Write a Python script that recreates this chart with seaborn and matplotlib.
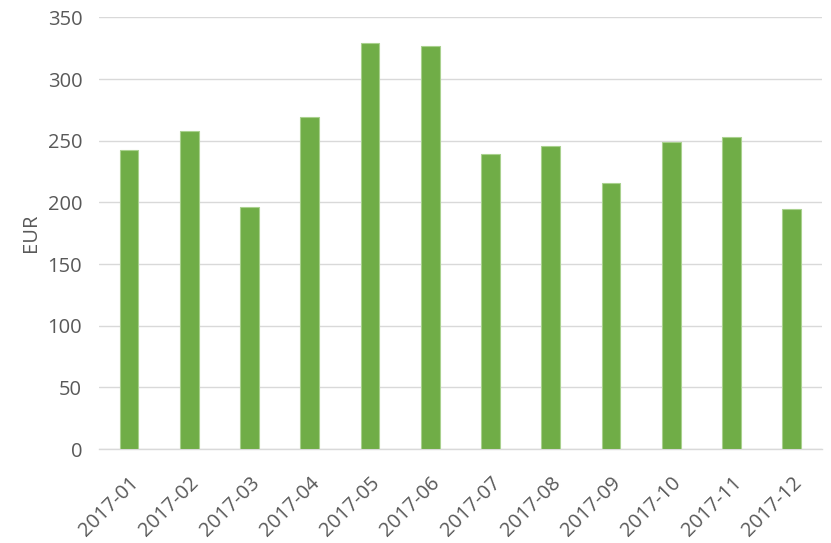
import matplotlib
matplotlib.use("Agg")
import matplotlib.pyplot as plt
import seaborn as sns
import pandas as pd

# monthly values
months = ["2017-01", "2017-02", "2017-03", "2017-04", "2017-05", "2017-06",
          "2017-07", "2017-08", "2017-09", "2017-10", "2017-11", "2017-12"]
eur = [242.7, 257.5, 196.4, 269.5, 329.5, 326.5,
       239.1, 245.4, 215.9, 249.2, 252.9, 194.5]
y_ticks = [0, 50, 100, 150, 200, 250, 300, 350]

df = pd.DataFrame({"month": months, "EUR": eur})

sns.set_style("white")
plt.rcParams["font.family"] = ["Open Sans", "DejaVu Sans"]

fig = plt.figure(figsize=(8.31, 5.43), dpi=100)
ax = fig.add_axes([0.119, 0.173, 0.870, 0.795])

sns.barplot(data=df, x="month", y="EUR", color="#70AD47", width=0.31,
            edgecolor="#A9D18E", linewidth=0.8, saturation=1, ax=ax, zorder=3)

ax.set_ylim(0, 350)
ax.set_xlim(-0.5, 11.5)
ax.set_yticks(y_ticks)
ax.yaxis.grid(True, color="#D9D9D9", linewidth=1, zorder=0)
ax.set_axisbelow(True)
for s in ["top", "right", "left"]:
    ax.spines[s].set_visible(False)
ax.spines["bottom"].set_color("#D9D9D9")
ax.spines["bottom"].set_linewidth(1)

ax.tick_params(axis="both", length=0, labelsize=14.5, colors="#595959")
ax.tick_params(axis="y", pad=12)
ax.tick_params(axis="x", pad=17)
plt.setp(ax.get_xticklabels(), rotation=45, ha="right", rotation_mode="anchor")
ax.set_xlabel("")
ax.set_ylabel("EUR", fontsize=14.5, color="#595959", labelpad=5)

fig.savefig("out.png", dpi=100)
